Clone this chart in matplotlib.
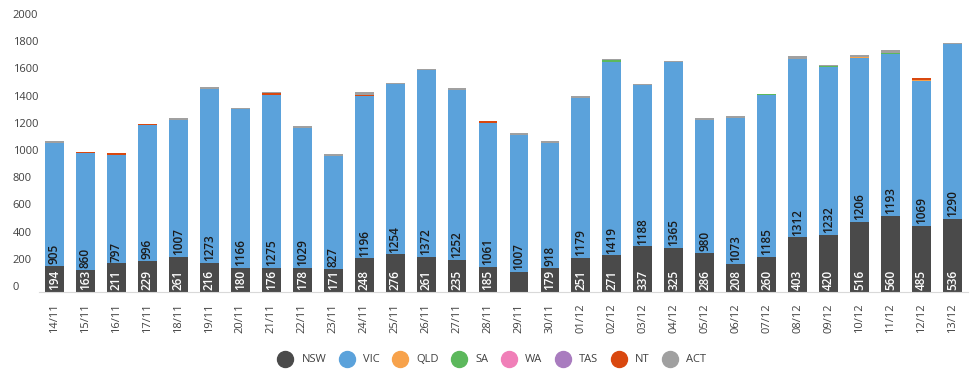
import matplotlib
matplotlib.use("Agg")
import matplotlib.pyplot as plt
from matplotlib.lines import Line2D
from matplotlib.transforms import ScaledTranslation
import numpy as np

plt.rcParams['font.family'] = ['Open Sans', 'DejaVu Sans']

dates = ["14/11","15/11","16/11","17/11","18/11","19/11","20/11","21/11","22/11","23/11",
         "24/11","25/11","26/11","27/11","28/11","29/11","30/11","01/12","02/12","03/12",
         "04/12","05/12","06/12","07/12","08/12","09/12","10/12","11/12","12/12","13/12"]

nsw = [194,163,211,229,261,216,180,176,178,171,248,276,261,235,185,150,179,251,271,337,
       325,286,208,260,403,420,516,560,485,536]
vic = [905,860,797,996,1007,1273,1166,1275,1029,827,1196,1254,1372,1252,1061,1007,918,1179,1419,1188,
       1365,980,1073,1185,1312,1232,1206,1193,1069,1290]
qld = [0,0,0,0,0,0,0,0,0,0,0,0,0,0,0,0,0,0,0,0,
       0,0,0,0,0,0,5,0,8,0]
sa  = [0,0,0,0,0,0,0,0,0,0,0,0,0,0,0,0,0,0,15,0,
       0,0,0,10,0,10,0,8,0,0]
wa  = [0]*30
tas = [0]*30
nt  = [0,5,13,8,0,0,0,12,0,0,8,0,0,0,8,0,0,0,0,0,
       0,0,0,0,0,0,0,0,8,0]
act = [12,5,4,4,10,15,10,8,10,15,20,10,5,10,4,12,10,10,8,8,
       12,12,10,0,20,7,13,15,0,5]
# NSW segment labels shown (29/11 has none in the reference)
nsw_show = [True]*30
nsw_show[15] = False

series = [("NSW", nsw, "#4a4a4a"), ("VIC", vic, "#5ba2db"), ("QLD", qld, "#f7a24b"),
          ("SA", sa, "#5cb85c"), ("WA", wa, "#f07fb8"), ("TAS", tas, "#a97cbf"),
          ("NT", nt, "#d9480f"), ("ACT", act, "#a0a0a0")]

fig = plt.figure(figsize=(9.8, 3.76), dpi=100)
ax = fig.add_axes([39/980, 1-292/376, (968-39)/980, 272/376])

x = np.arange(len(dates))
bottom = np.zeros(len(dates))
w = 0.61
for name, vals, col in series:
    v = np.array(vals, dtype=float)
    ax.bar(x, v, w, bottom=bottom, color=col, linewidth=0)
    if name == "NSW":
        for i in range(len(x)):
            if nsw_show[i]:
                ax.text(x[i], bottom[i] + 12, str(vals[i]), rotation=90, ha='center', va='bottom',
                        color='white', fontsize=8.5, fontweight='semibold')
    elif name == "VIC":
        for i in range(len(x)):
            ax.text(x[i], bottom[i] + 12, str(vals[i]), rotation=90, ha='center', va='bottom',
                    color='#1a1a1a', fontsize=8.5, fontweight='semibold')
    bottom += v

ax.set_xlim(-0.5, len(dates) - 0.5)
ax.set_ylim(0, 2000)
ax.set_yticks(range(0, 2001, 200))
ax.set_xticks(x)
ax.set_xticklabels(dates, rotation=90, fontsize=8, color='#404040')
for s in ['top', 'right', 'left']:
    ax.spines[s].set_visible(False)
ax.spines['bottom'].set_color('#d9d9d9')
ax.tick_params(axis='both', length=0)
ax.tick_params(axis='x', pad=8)
ax.tick_params(axis='y', pad=19, labelsize=8, labelcolor='#404040')
shift = ScaledTranslation(0, 6/100, fig.dpi_scale_trans)
for lbl in ax.get_yticklabels():
    lbl.set_horizontalalignment('left')
    lbl.set_transform(lbl.get_transform() + shift)

handles = [Line2D([0], [0], marker='o', linestyle='none', markersize=11.5,
                  markerfacecolor=c, markeredgecolor=c) for _, _, c in series]
fig.legend(handles, [n for n, _, _ in series], loc='center', bbox_to_anchor=(492/980, 1-360/376),
           ncol=8, frameon=False, fontsize=8, handlelength=1.3, handletextpad=0.8,
           columnspacing=1.2, labelcolor='#404040')

fig.savefig("out.png", dpi=100)
